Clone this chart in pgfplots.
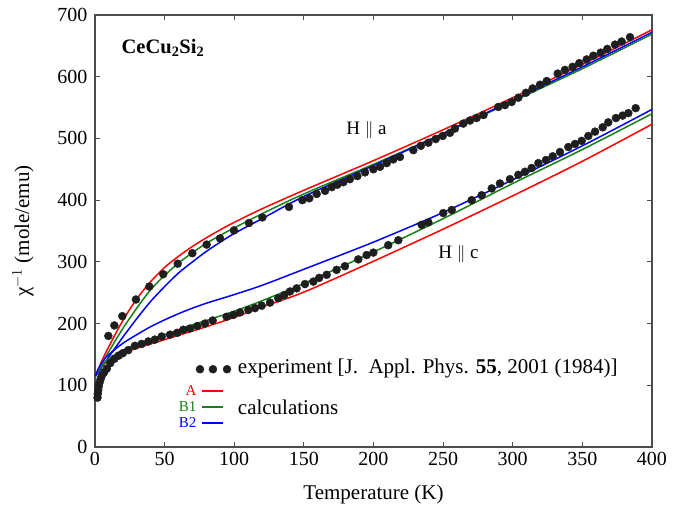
\documentclass[border=0pt]{standalone}
\usepackage{fontspec}
\setmainfont{Liberation Serif}
\usepackage{pgfplots}
\pgfplotsset{compat=1.18}
\definecolor{cred}{RGB}{255,0,0}
\definecolor{cgreen}{RGB}{20,130,20}
\definecolor{cblue}{RGB}{0,0,255}
\definecolor{dots}{RGB}{30,30,30}
\newfontfamily\tickfont{Liberation Serif}

\begin{document}
\begin{tikzpicture}
  \path[use as bounding box] (-95pt,-63pt) rectangle (594pt,447pt);
  \begin{axis}[
    at={(0,0)}, anchor=south west,
    scale only axis,
    width=557pt, height=432pt,
    xmin=0, xmax=400, ymin=0, ymax=700,
    xtick={0,50,100,150,200,250,300,350,400},
    xticklabel={\tickfont\pgfmathprintnumber[assume math mode=true]{\tick}},
    ytick={0,100,200,300,400,500,600,700},
    yticklabel={\tickfont\pgfmathprintnumber[assume math mode=true]{\tick}},
    tick pos=both, tick align=inside,
    major tick length=5pt,
    axis line style={black!70, line width=1.1pt},
    tick style={black!70, line width=0.9pt},
    tick label style={font=\tickfont\fontsize{20}{20}\selectfont},
    label style={font=\fontsize{21}{21}\selectfont},
    xlabel={Temperature (K)},
    ylabel={χ$^{-1}$ (mole/emu)},
    xticklabel style={yshift=-2pt},
    yticklabel style={xshift=-4pt},
    xlabel style={yshift=-12pt},
    ylabel style={yshift=17pt},
    clip=false,
  ]
    % experiment, H || a
    \addplot[only marks, mark=*, mark size=4pt, dots] coordinates {
      (9.6,180)(13.9,197)(19.6,212)(29.4,239)(39,260)(49,280)(59.4,297)
      (69.9,314)(80.2,328)(89.8,338)(99.8,351)(110.6,363)(120.2,372)
      (139.3,389)(148.9,400)(153.9,403)(159.2,410)(165.2,415)(170,421)
      (174,425)(178.3,429)(183,434)(188.4,439)(193.9,445)(199.9,450)
      (204.7,454)(209.5,460)(214.2,466)(219,470)(228.6,481)(234,488)
      (239.4,493)(244.7,499)(249.7,504)(254.9,509)(258.5,516)(264.5,524)
      (269.3,529)(274,533)(279,538)(289.6,551)(294.4,554)(299.2,559)
      (304,566)(309.5,574)(314.3,581)(319.6,587)(324.4,593)(332.3,605)
      (337.5,611)(343,616)(347.8,622)(353.1,628)(357.9,634)(363.2,639)
      (367.9,645)(373.4,652)(378.2,657)(384.2,664)
    };
    % experiment, H || c
    \addplot[only marks, mark=*, mark size=4pt, dots] coordinates {
      (1.8,80)(2,86)(2.3,92)(2.6,98)(3.2,104)(4,110)(5,116)(6.5,121)(8.5,127)
      (11,136)(14,143)(17,148)(20,152)(23.9,157)(28.7,164)(33.5,167)(38.3,171)
      (43,174)(47.9,179)(53.9,182)(59.1,185)(63.4,190)(68.2,192)(73.5,196)
      (79,200)(84.5,205)(94.5,211)(99.3,214)(104.1,218)(110.1,222)
      (114.9,225)(119.7,229)(125.7,234)(131.6,241)(135.9,246)(140,252)
      (144.8,257)(150.8,264)(156.8,268)(161,274)(166.4,279)(173.5,287)
      (179.5,293)(189.1,304)(195.1,311)(199.9,315)(210.6,327)(217.8,335)
      (234.6,360)(239.4,364)(250.1,379)(256.2,384)(270.5,400)(277.7,408)
      (284.9,419)(290.8,427)(298,434)(304,441)(308.8,446)(313.6,452)
      (318.4,460)(323.9,465)(328.7,471)(333.9,478)(339.9,486)(344.7,491)
      (349.5,496)(354.3,504)(359.1,511)(364.6,518)(368.6,526)(374.1,533)
      (378.9,537)(383,541)(388.3,549)
    };
    % calculations, H || a
    \addplot[cred, line width=1.5pt, smooth] coordinates {
      (0.5,115)(5,140)(10,163)(20,205)(30,240)(40,268)(50,291)(60,309)
      (70,325)(80,339)(90,352)(100,364)(120,386)(150,416)(200,464)
      (250,514)(300,566)(350,620)(400,676)
    };
    \addplot[cgreen, line width=1.5pt, smooth] coordinates {
      (0.5,115)(5,135)(10,155)(20,192)(30,225)(40,255)(50,278)(60,298)
      (70,315)(80,330)(90,343)(100,355)(120,378)(150,410)(200,458)
      (250,508)(300,560)(350,613)(400,669)
    };
    \addplot[cblue, line width=1.5pt, smooth] coordinates {
      (0.5,115)(5,130)(10,146)(20,178)(30,208)(40,236)(50,260)(60,282)
      (70,300)(80,317)(90,332)(100,346)(120,370)(150,406)(200,456)
      (250,508)(300,562)(350,616)(400,672)
    };
    % calculations, H || c
    \addplot[cred, line width=1.5pt, smooth] coordinates {
      (0.5,115)(2,125)(5,132)(10,140)(20,152)(30,160)(40,167)(50,174)
      (60,181)(70,188)(80,195)(100,210)(120,227)(150,251)(200,301)
      (250,353)(300,407)(350,463)(400,523)
    };
    \addplot[cgreen, line width=1.5pt, smooth] coordinates {
      (0.5,115)(2,122)(5,132)(10,143)(20,157)(30,166)(40,174)(50,182)
      (60,190)(70,198)(80,205)(100,220)(120,237)(150,265)(200,316)
      (250,370)(300,427)(350,482)(400,540)
    };
    \addplot[cblue, line width=1.5pt, smooth] coordinates {
      (0.5,115)(2,125)(5,137)(10,150)(20,168)(30,182)(40,195)(50,206)
      (60,216)(70,225)(80,233)(90,240)(100,247)(120,262)(150,288)(200,332)
      (250,380)(300,433)(350,488)(400,547)
    };
    % legend
    \addplot[only marks, mark=*, mark size=4pt, dots] coordinates {
      (75.4,126)(84.7,126)(94.8,126)
    };
    \addplot[cred, line width=1.5pt] coordinates {(76.8,91)(91.9,91)};
    \addplot[cgreen, line width=1.5pt] coordinates {(76.8,65)(91.9,65)};
    \addplot[cblue, line width=1.5pt] coordinates {(76.8,39)(91.9,39)};
    \node[anchor=west, font=\fontsize{21}{21}\selectfont, inner sep=0pt]
      at (axis cs:102.5,127) {experiment [J.\ \ Appl. Phys. \textbf{55}, 2001 (1984)]};
    \node[anchor=west, font=\fontsize{21}{21}\selectfont, inner sep=0pt]
      at (axis cs:102.5,65) {calculations};
    \node[anchor=east, cred, font=\fontsize{15}{15}\selectfont, inner sep=0pt]
      at (axis cs:73,92) {A};
    \node[anchor=east, cgreen, font=\fontsize{15}{15}\selectfont, inner sep=0pt]
      at (axis cs:73,66) {B1};
    \node[anchor=east, cblue, font=\fontsize{15}{15}\selectfont, inner sep=0pt]
      at (axis cs:73,40) {B2};
    % annotations
    \node[anchor=west, font=\bfseries\fontsize{20.5}{20.5}\selectfont, inner sep=0pt]
      at (axis cs:19,646) {CeCu\textsubscript{2}Si\textsubscript{2}};
    \node[font=\fontsize{19}{19}\selectfont] at (axis cs:195,514) {H $\parallel$ a};
    \node[font=\fontsize{19}{19}\selectfont] at (axis cs:261,313) {H $\parallel$ c};
  \end{axis}
\end{tikzpicture}
\end{document}
